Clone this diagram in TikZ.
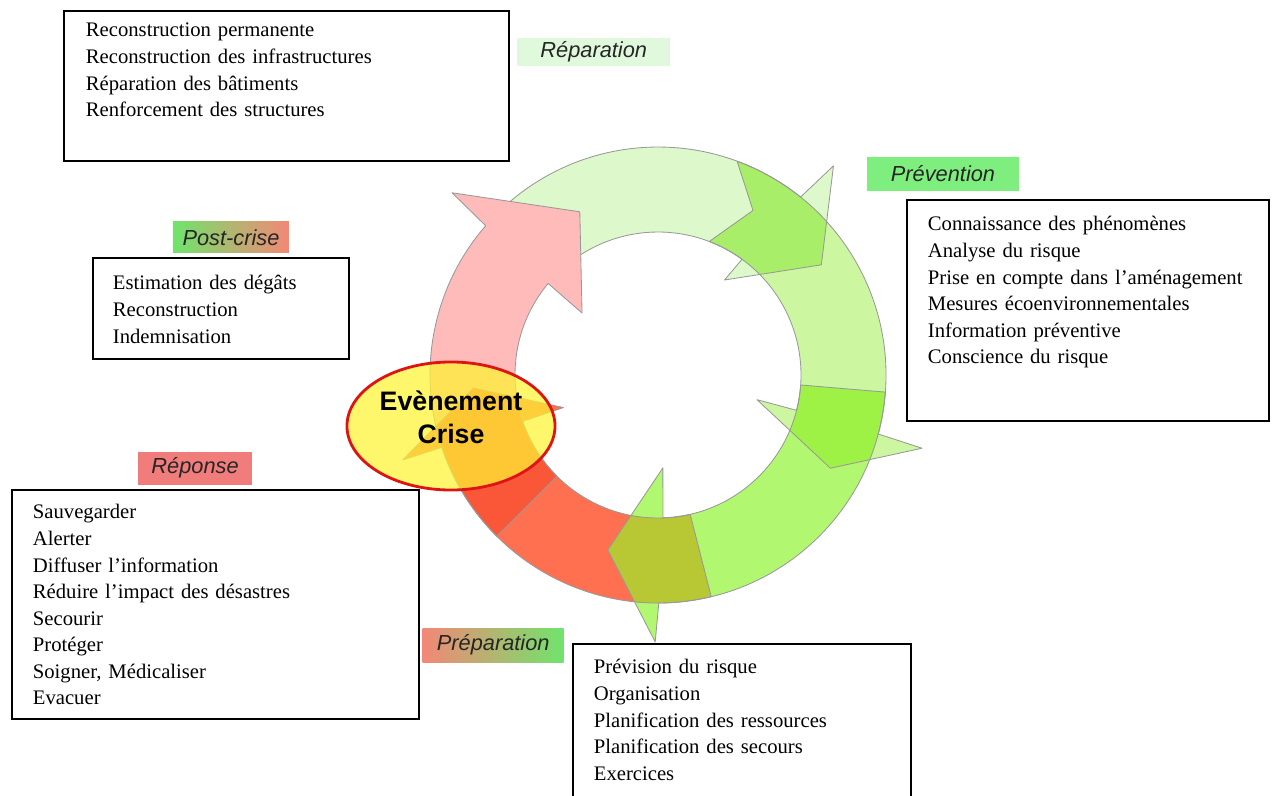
\documentclass[tikz,border=0pt]{standalone}
\usepackage{fontspec}
\setmainfont{Liberation Serif}
\setsansfont{Liberation Sans}
\usepackage{tikz}
\usetikzlibrary{positioning, shapes.geometric}
\usepackage{xcolor}

\definecolor{reparcol}{RGB}{221,248,202}
\definecolor{prevcol}{RGB}{205,246,160}
\definecolor{prepcol}{RGB}{178,247,112}
\definecolor{repocol}{RGB}{255,112,80}
\definecolor{postcol}{RGB}{255,186,186}
\definecolor{reparprev}{RGB}{168,238,104}
\definecolor{prevprep}{RGB}{158,242,70}
\definecolor{preprepo}{RGB}{184,200,52}
\definecolor{repopost}{RGB}{250,86,56}
\definecolor{critfill}{RGB}{255,244,50}
\definecolor{critline}{RGB}{222,20,20}
\definecolor{reparlbl}{RGB}{224,249,220}
\definecolor{prevlbl}{RGB}{126,238,126}
\definecolor{repolbl}{RGB}{240,124,124}
\definecolor{lblgreen}{RGB}{112,228,108}
\definecolor{lblred}{RGB}{242,136,118}

\begin{document}
\begin{tikzpicture}[
x=0.025cm, y=0.025cm,
listbox/.style={draw,
line width=1.3pt,
anchor=north west,
align=left,
inner ysep=0pt,
font=\fontsize{14.7}{18.9}\selectfont},
phase/.style={font=\sffamily\itshape\fontsize{15.5}{18}\selectfont,
text=black!85,
inner sep=0pt},
rimline/.style={draw=black!40, line width=0.6pt, line join=round},
reparband/.style={insert path={(140:228) arc[start angle=140, end angle=51.3, radius=228] -- (50:273) -- (34:197) -- (55:116) -- (54:143) arc[start angle=54, end angle=140, radius=143] -- cycle}},
prevband/.style={insert path={(69.7:228) arc[start angle=69.7, end angle=-15, radius=228] -- (-15.5:274) -- (-28.4:196) -- (-14:102) -- (-14.3:143) arc[start angle=-14.3, end angle=69, radius=143] -- (60:190) -- cycle}},
prepband/.style={insert path={(-4.3:228) arc[start angle=-4.3, end angle=-89.8, radius=228] -- (-90.6:267) -- (-106:182) -- (-87:93) -- (-88:143) arc[start angle=-88, end angle=-4, radius=143] -- cycle}},
repoband/.style={insert path={(-76.5:228) arc[start angle=-76.5, end angle=-161.5, radius=228] -- (-161.6:269) -- (-176:185) -- (-161:100) -- (-161.1:143) arc[start angle=-161.1, end angle=-77, radius=143] -- cycle}},
postband/.style={insert path={(225:228) arc[start angle=225, end angle=139.1, radius=228] -- (138.5:275) -- (115.6:181) -- (140.8:98) -- (140.2:143) arc[start angle=140.2, end angle=225, radius=143] -- cycle}}
]

\useasboundingbox (0,0) rectangle (1272,-796);

\begin{scope}[shift={(658,-375)}]
\fill[reparcol, reparband];
\fill[prevcol, prevband];
\begin{scope}
\clip[reparband];
\fill[reparprev, prevband];
\end{scope}
\fill[prepcol, prepband];
\begin{scope}
\clip[prevband];
\fill[prevprep, prepband];
\end{scope}
\fill[repocol, repoband];
\begin{scope}
\clip[prepband];
\fill[preprepo, repoband];
\end{scope}
\fill[postcol, postband];
\begin{scope}
\clip[repoband];
\fill[repopost, postband];
\end{scope}

\draw[rimline] (130.5:228) arc[start angle=130.5, end angle=51.3, radius=228] -- (50:273) -- (34:197) -- (55:116) -- (54:143) arc[start angle=54, end angle=122.6, radius=143];
\draw[rimline, prevband];
\draw[rimline, prepband];
\draw[rimline, repoband];
\draw[rimline, postband];
\end{scope}

\node[ellipse, draw=critline, line width=2pt, fill=critfill, fill opacity=0.72, minimum width=5.2cm, minimum height=3.2cm, inner sep=0pt] (crise) at (451,-426) {};
\node[font=\sffamily\bfseries\fontsize{19}{23.4}\selectfont, align=center] (crisetext) at ([yshift=0.225cm]crise.center) {Evènement\\Crise};

\node[listbox, inner xsep=0.55cm, text width=10.025cm, text height=0.65cm, text depth=3.1cm] (reparbox) at (63,-10) {Reconstruction permanente\\Reconstruction des infrastructures\\Réparation des bâtiments\\Renforcement des structures};
\node[listbox, inner xsep=0.525cm, text width=8cm, text height=0.775cm, text depth=4.75cm] (prevbox) at (906,-199) {Connaissance des phénomènes\\Analyse du risque\\\mbox{Prise en compte dans l’aménagement}\\Mesures écoenvironnementales\\Information préventive\\Conscience du risque};
\node[listbox, inner xsep=0.5cm, text width=5.4cm, text height=0.8cm, text depth=1.725cm] (postbox) at (92,-257) {Estimation des dégâts\\Reconstruction\\Indemnisation};
\node[listbox, inner xsep=0.525cm, text width=9.125cm, text height=0.725cm, text depth=5cm] (repobox) at (11,-489) {Sauvegarder\\Alerter\\Diffuser l’information\\Réduire l’impact des désastres\\Secourir\\Protéger\\Soigner, Médicaliser\\Evacuer};
\node[listbox, inner xsep=0.525cm, text width=7.4cm, text height=0.75cm, text depth=3.675cm] (prepbox) at (572,-643) {Prévision du risque\\Organisation\\Planification des ressources\\Planification des secours\\Exercices};

\node[phase, fill=reparlbl, minimum width=3.825cm, minimum height=0.7cm, right=0.175cm of reparbox.north east, yshift=-1.05cm] (reparlabel) {Réparation};
\node[phase, fill=prevlbl, minimum width=3.8cm, minimum height=0.85cm, above=0.2cm of prevbox.north west, xshift=0.925cm] (prevlabel) {Prévention};
\node[phase, left color=lblgreen, right color=lblred, minimum width=2.9cm, minimum height=0.775cm, above=0.1cm of postbox, xshift=0.25cm] (postlabel) {Post-crise};
\node[phase, fill=repolbl, minimum width=2.85cm, minimum height=0.825cm, above=0.1cm of repobox, xshift=-0.51cm] (repolabel) {Réponse};
\node[phase, left color=lblred, right color=lblgreen, minimum width=3.525cm, minimum height=0.85cm, left=0.2cm of prepbox.north west, yshift=-0.05cm] (preplabel) {Préparation};

\end{tikzpicture}
\end{document}
